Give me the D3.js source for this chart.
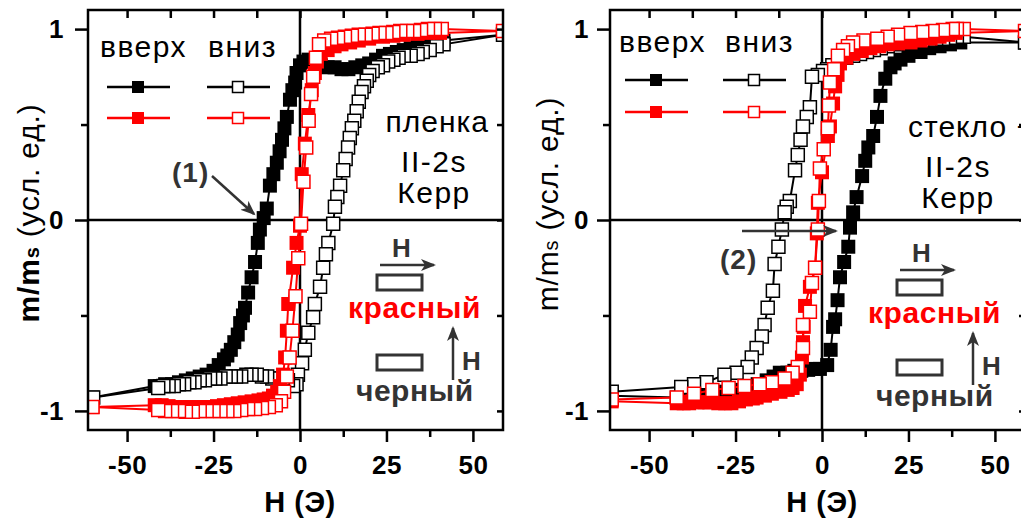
<!DOCTYPE html>
<html>
<head>
<meta charset="utf-8">
<script src="https://cdn.jsdelivr.net/npm/d3@7"></script>
<style>
body { margin: 0; background: #fff; }
svg text { font-family: "Liberation Sans", Arial, sans-serif; }
</style>
</head>
<body>
<svg id="chart" width="1021" height="522"></svg>
<script>
// ---- data: [H (Oe), m/ms] ----
// panel 1: film (пленка)
var filmUpBlack = [[-60,-0.93],[-42,-0.87],[-40.5,-0.87],[-39,-0.86],[-37,-0.86],[-35,-0.85],[-33,-0.84],[-31,-0.83],[-29,-0.82],[-27,-0.81],[-25,-0.79],[-23.5,-0.76],[-22,-0.73],[-21,-0.71],[-20,-0.68],[-19,-0.64],[-18,-0.6],[-17.3,-0.54],[-16.5,-0.5],[-15.9,-0.46],[-15,-0.38],[-14,-0.3],[-13,-0.22],[-12.2,-0.12],[-11.6,-0.05],[-10.5,0.01],[-9.6,0.06],[-8.7,0.18],[-7.7,0.24],[-6.7,0.3],[-5.9,0.36],[-5.2,0.42],[-4.5,0.48],[-3.8,0.54],[-2.9,0.63],[-2.2,0.68],[-1.4,0.72],[-1,0.77],[0,0.81],[1,0.83],[2.5,0.84],[4,0.83],[6,0.81],[8,0.8],[10,0.8],[12,0.79],[14,0.79],[16,0.8],[18,0.81],[20,0.82],[22,0.84],[24,0.86],[26,0.87],[28,0.88],[30,0.89],[32,0.9],[34,0.91],[36,0.92],[38,0.93],[40,0.93],[41.5,0.94],[58.7,0.97]];
var filmDownBlack = [[58.7,0.97],[41.5,0.92],[39.5,0.91],[37.5,0.89],[35.5,0.88],[34,0.87],[32,0.86],[30,0.86],[28.5,0.85],[27,0.84],[25.5,0.83],[24,0.81],[22.5,0.8],[21,0.78],[20,0.76],[19.3,0.73],[18.5,0.7],[17.8,0.67],[17,0.62],[16.4,0.57],[15.7,0.52],[15,0.48],[14.4,0.43],[13.9,0.38],[13.2,0.32],[12.5,0.26],[11.6,0.18],[10.8,0.12],[10.1,0.07],[9.6,-0.02],[8.2,-0.12],[7.5,-0.18],[6.7,-0.25],[5.8,-0.35],[4.3,-0.44],[3.8,-0.51],[2.4,-0.59],[1.4,-0.68],[0.6,-0.75],[-0.6,-0.81],[-1,-0.86],[-2,-0.87],[-3.5,-0.84],[-5,-0.83],[-6.5,-0.83],[-8,-0.83],[-9.5,-0.82],[-11,-0.82],[-12.5,-0.81],[-14,-0.81],[-15.5,-0.81],[-17,-0.82],[-18.5,-0.82],[-20,-0.82],[-21.5,-0.82],[-23,-0.83],[-24.5,-0.83],[-26,-0.83],[-27.5,-0.84],[-29,-0.84],[-30.5,-0.85],[-32,-0.85],[-33.5,-0.86],[-35,-0.86],[-36.5,-0.87],[-38,-0.87],[-39.5,-0.87],[-41,-0.88],[-59.8,-0.93]];
var filmUpRed = [[-60,-0.98],[-42,-0.97],[-40,-0.97],[-38,-0.975],[-36,-0.98],[-34,-0.98],[-32,-0.98],[-30,-0.98],[-28,-0.98],[-26,-0.98],[-24,-0.975],[-22,-0.97],[-20,-0.965],[-18,-0.96],[-16,-0.955],[-14,-0.95],[-12,-0.945],[-10.5,-0.94],[-9,-0.935],[-7.8,-0.92],[-6.6,-0.9],[-5.8,-0.87],[-4.9,-0.81],[-4.3,-0.72],[-3.8,-0.58],[-3.4,-0.44],[-2,-0.25],[-1,-0.12],[0,-0.03],[0.5,0.24],[1.4,0.4],[2.4,0.55],[3.4,0.68],[4.3,0.77],[4.9,0.83],[6,0.87],[8,0.89],[10,0.91],[12,0.92],[14.5,0.93],[17,0.94],[20,0.95],[24,0.96],[27,0.965],[30,0.97],[34,0.975],[37,0.98],[40.5,0.98],[58.7,0.99]];
var filmDownRed = [[58.7,0.99],[41,1],[39,1],[37,1],[35,0.995],[33,0.99],[31,0.99],[29,0.99],[27,0.985],[25,0.98],[23,0.98],[21,0.975],[19,0.97],[17,0.97],[15,0.965],[13,0.96],[11,0.955],[9,0.95],[7,0.94],[5.5,0.92],[4.6,0.85],[3.8,0.75],[3.2,0.66],[2.5,0.52],[1.8,0.38],[1,0.2],[0.3,-0.02],[-0.5,-0.2],[-1.3,-0.4],[-2.2,-0.58],[-3,-0.72],[-3.8,-0.82],[-4.6,-0.9],[-5.5,-0.95],[-7,-0.97],[-9,-0.98],[-11,-0.985],[-13,-0.99],[-15,-0.99],[-17,-0.995],[-19,-1],[-21,-1],[-23,-1],[-25,-1],[-27,-1],[-29,-1],[-31,-1.005],[-33,-1.005],[-35,-1],[-37,-1],[-39,-1],[-41,-0.995],[-60,-0.98]];

// panel 2: glass (стекло)
var glassUpBlack = [[-60.8,-0.92],[-42,-0.93],[-40,-0.93],[-38,-0.92],[-36,-0.92],[-34,-0.91],[-32,-0.91],[-30,-0.9],[-28,-0.9],[-26,-0.89],[-24,-0.89],[-22,-0.88],[-20,-0.87],[-18.6,-0.86],[-16,-0.84],[-14,-0.82],[-12.2,-0.8],[-10,-0.8],[-8,-0.79],[-6,-0.79],[-4,-0.785],[-2,-0.78],[-0.6,-0.78],[1.5,-0.76],[2.5,-0.68],[3.2,-0.56],[3.8,-0.52],[4.5,-0.42],[5.2,-0.3],[6.4,-0.22],[7.6,-0.14],[8.1,-0.04],[9,0.04],[10,0.12],[11.6,0.23],[12.5,0.31],[13.4,0.38],[14.8,0.44],[15.9,0.54],[16.9,0.65],[18.3,0.74],[19.8,0.8],[21,0.82],[22.7,0.84],[25,0.86],[28.5,0.88],[31,0.9],[34,0.91],[37,0.92],[40,0.93],[58.7,0.93]];
var glassDownBlack = [[58.7,0.93],[41,0.96],[39,0.96],[37,0.955],[35,0.95],[33,0.95],[31,0.945],[29,0.94],[27,0.94],[25,0.93],[23,0.93],[21,0.92],[19,0.91],[17,0.9],[15,0.89],[13,0.88],[11,0.87],[9,0.86],[7,0.85],[5,0.83],[3,0.81],[1.5,0.79],[0.3,0.78],[-1.2,0.76],[-2.9,0.75],[-3.5,0.59],[-4.4,0.54],[-5.5,0.49],[-6.2,0.42],[-7,0.34],[-7.8,0.26],[-9.3,0.1],[-10.2,0.07],[-10.8,0.04],[-11.6,-0.05],[-12.6,-0.14],[-13.7,-0.23],[-14.2,-0.37],[-15.7,-0.46],[-16.6,-0.55],[-17.4,-0.61],[-18.9,-0.67],[-20.3,-0.72],[-21.5,-0.77],[-24.7,-0.8],[-28.2,-0.81],[-33.4,-0.85],[-37,-0.86],[-40.7,-0.875],[-60.8,-0.9]];
var glassUpRed = [[-60.8,-0.95],[-42,-0.96],[-40,-0.96],[-38.4,-0.96],[-36,-0.955],[-34,-0.955],[-32.6,-0.955],[-30,-0.96],[-28,-0.96],[-26.2,-0.96],[-24,-0.95],[-22,-0.94],[-20,-0.935],[-18.9,-0.93],[-16.5,-0.92],[-14.5,-0.91],[-12,-0.9],[-9.9,-0.89],[-8.5,-0.88],[-7.3,-0.86],[-6.4,-0.81],[-5.8,-0.72],[-5.5,-0.64],[-5.3,-0.56],[-4.9,-0.45],[-3.5,-0.35],[-2,-0.25],[-1.5,-0.07],[-1.2,0.09],[0,0.25],[1.7,0.44],[2.3,0.49],[3.2,0.61],[3.8,0.7],[4.5,0.76],[5.2,0.82],[7,0.85],[9,0.87],[11.5,0.885],[14,0.9],[16.5,0.91],[19,0.92],[22,0.925],[25.6,0.93],[28.5,0.94],[31.4,0.95],[34,0.96],[36.5,0.97],[38.7,0.98],[58.7,0.99]];
var glassDownRed = [[58.7,0.99],[41,1],[39,1],[37.8,1],[35,0.995],[32,0.99],[29,0.985],[25.6,0.98],[22,0.97],[19,0.96],[16,0.95],[12,0.94],[9,0.93],[7.5,0.91],[6.1,0.89],[4.6,0.86],[3.5,0.79],[2.3,0.72],[2,0.6],[1.7,0.48],[0.5,0.37],[-0.6,0.27],[-0.9,0.1],[-1.2,-0.05],[-2,-0.25],[-2.9,-0.33],[-3.5,-0.48],[-5.5,-0.55],[-5.5,-0.67],[-7,-0.77],[-8.5,-0.8],[-10.8,-0.83],[-14.5,-0.85],[-18,-0.86],[-22.4,-0.87],[-27,-0.88],[-31.7,-0.89],[-37,-0.91],[-42,-0.93],[-60.8,-0.94]];

var xTicks = [-50, -25, 0, 25, 50];
var xMinorTicks = [-37.5, -12.5, 12.5, 37.5];
var yTicks = [-1, 0, 1];
var yMinorTicks = [-0.5, 0.5];

// ---- layout ----
var svg = d3.select("#chart");
var W = 415, TOP = 10, BOTTOM = 430;
var xDomain = [-61.3, 58.7], yDomain = [-1.1, 1.1];
var GRAY = "#333";

svg.append("rect").attr("width", 1021).attr("height", 522).attr("fill", "#fff");
var defs = svg.append("defs");
defs.append("marker")
    .attr("id", "arrow")
    .attr("markerUnits", "userSpaceOnUse")
    .attr("markerWidth", 16).attr("markerHeight", 12)
    .attr("refX", 13).attr("refY", 6)
    .attr("orient", "auto")
  .append("path")
    .attr("d", "M0,0 L15,6 L0,12 L4,6 Z")
    .attr("fill", GRAY);

function label(g, x, y, str, size, weight, color, anchor, spacing) {
    return g.append("text")
        .attr("x", x).attr("y", y)
        .attr("font-size", size)
        .attr("font-weight", weight || "normal")
        .attr("fill", color || "#000")
        .attr("text-anchor", anchor || "start")
        .attr("letter-spacing", spacing || 0)
        .text(str);
}

function arrow(g, x1, y1, x2, y2) {
    g.append("line")
        .attr("x1", x1).attr("y1", y1).attr("x2", x2).attr("y2", y2)
        .attr("stroke", GRAY).attr("stroke-width", 2.5)
        .attr("marker-end", "url(#arrow)");
}

function box(g, x, y, w, h) {
    g.append("rect")
        .attr("x", x).attr("y", y).attr("width", w).attr("height", h)
        .attr("fill", "none").attr("stroke", GRAY).attr("stroke-width", 3);
}

var sqFilled = d3.symbol().type(d3.symbolSquare).size(196);
var sqOpen = d3.symbol().type(d3.symbolSquare).size(169);
var sqLegFilled = d3.symbol().type(d3.symbolSquare).size(144);
var sqLegOpen = d3.symbol().type(d3.symbolSquare).size(121);

function drawMarker(g, cx, cy, color, open) {
    g.append("path")
        .attr("d", open ? sqLegOpen() : sqLegFilled())
        .attr("transform", "translate(" + cx + "," + cy + ")")
        .attr("fill", open ? "#fff" : color)
        .attr("stroke", open ? color : "none")
        .attr("stroke-width", 1.5);
}

function drawPanel(p) {
    var x = d3.scaleLinear().domain(xDomain).range([p.left, p.left + W]);
    var y = d3.scaleLinear().domain(yDomain).range([BOTTOM, TOP]);
    var g = svg.append("g");

    defs.append("clipPath").attr("id", "clip" + p.id)
      .append("rect")
        .attr("x", p.left).attr("y", TOP)
        .attr("width", W).attr("height", BOTTOM - TOP);

    // zero lines
    g.append("line")
        .attr("x1", p.left).attr("x2", p.left + W)
        .attr("y1", y(0)).attr("y2", y(0))
        .attr("stroke", "#000").attr("stroke-width", 2.5);
    g.append("line")
        .attr("x1", x(0)).attr("x2", x(0))
        .attr("y1", TOP).attr("y2", BOTTOM)
        .attr("stroke", "#000").attr("stroke-width", 2.5);

    var plot = g.append("g").attr("clip-path", "url(#clip" + p.id + ")");
    var line = d3.line().x(function(d) { return x(d[0]); }).y(function(d) { return y(d[1]); });

    p.series.forEach(function(s) {
        plot.append("path")
            .datum(s.data)
            .attr("d", line)
            .attr("fill", "none")
            .attr("stroke", s.color)
            .attr("stroke-width", 2);
        plot.append("g").selectAll("path")
            .data(s.data)
            .enter().append("path")
            .attr("d", s.open ? sqOpen : sqFilled)
            .attr("transform", function(d) { return "translate(" + x(d[0]) + "," + y(d[1]) + ")"; })
            .attr("fill", s.open ? "#fff" : s.color)
            .attr("stroke", s.open ? s.color : "none")
            .attr("stroke-width", 1.5);
    });

    // frame
    g.append("rect")
        .attr("x", p.left).attr("y", TOP)
        .attr("width", W).attr("height", BOTTOM - TOP)
        .attr("fill", "none").attr("stroke", "#000").attr("stroke-width", 2.5);

    // axes
    var fmt = function(d) { return String(d); };
    var axes = [
        g.append("g").attr("transform", "translate(0," + BOTTOM + ")")
            .call(d3.axisBottom(x).tickValues(xTicks).tickSize(12).tickPadding(14).tickFormat(fmt)),
        g.append("g").attr("transform", "translate(0," + BOTTOM + ")")
            .call(d3.axisBottom(x).tickValues(xMinorTicks).tickSize(7).tickFormat("")),
        g.append("g").attr("transform", "translate(0," + TOP + ")")
            .call(d3.axisBottom(x).tickValues(xTicks.concat(xMinorTicks)).tickSize(8).tickFormat("")),
        g.append("g").attr("transform", "translate(" + p.left + ",0)")
            .call(d3.axisLeft(y).tickValues(yTicks).tickSize(13).tickPadding(p.yPad).tickFormat(fmt)),
        g.append("g").attr("transform", "translate(" + p.left + ",0)")
            .call(d3.axisLeft(y).tickValues(yMinorTicks).tickSize(7).tickFormat("")),
        g.append("g").attr("transform", "translate(" + (p.left + W) + ",0)")
            .call(d3.axisLeft(y).tickValues(yTicks.concat(yMinorTicks)).tickSize(6).tickFormat(""))
    ];
    axes.forEach(function(a) {
        a.select(".domain").remove();
        a.selectAll("line").attr("stroke", "#000").attr("stroke-width", 2.5);
        a.selectAll("text")
            .attr("font-family", "'Liberation Sans', Arial, sans-serif")
            .attr("font-size", 26).attr("font-weight", "bold").attr("fill", "#000")
            .attr("letter-spacing", 0.5);
    });

    // axis titles
    var yt = g.append("text")
        .attr("transform", "translate(" + p.yTitle[0] + "," + p.yTitle[1] + ") rotate(-90)")
        .attr("text-anchor", "middle").attr("font-size", 30).attr("letter-spacing", 0.8);
    yt.append("tspan").attr("font-weight", p.yTitleBold ? "bold" : "normal").text("m/m");
    yt.append("tspan").attr("font-weight", p.yTitleBold ? "bold" : "normal").attr("font-size", 20).text("s");
    yt.append("tspan").text(" (усл. ед.)");
    label(g, x(0), 512, "Н (Э)", 29, "bold", "#000", "middle", 0.5);

    // legend
    var L = p.legend;
    label(g, L.head1, L.head, "вверх", 30, "normal", "#000", "start", 1.5);
    label(g, L.head2, L.head, "вниз", 30, "normal", "#000", "start", 1.5);
    [["#000", L.row1], ["#f00", L.row2]].forEach(function(r) {
        [[L.col1, false], [L.col2, true]].forEach(function(c) {
            g.append("line")
                .attr("x1", c[0]).attr("x2", c[0] + 63)
                .attr("y1", r[1]).attr("y2", r[1])
                .attr("stroke", r[0]).attr("stroke-width", 2.5);
            drawMarker(g, c[0] + 31, r[1], r[0], c[1]);
        });
    });

    // sample description
    var S = p.sample;
    label(g, S.x, S.y, S.name, 30, "normal", "#000", S.anchor, 1);
    label(g, S.cx, S.y + 40, "II-2s", 30, "normal", "#000", "middle", 1.5);
    label(g, S.cx, S.y + 71, "Керр", 30, "normal", "#000", "middle", 1.5);

    // numbered arrow
    var N = p.note;
    label(g, N.tx, N.ty, N.text, 28, "bold", GRAY, "start", 1);
    arrow(g, N.a[0], N.a[1], N.a[2], N.a[3]);

    // geometry sketch (red / black)
    var K = p.sketch, dx = K.dx, dy = K.dy;
    label(g, 392 + dx, 257 + dy, "Н", 26, "bold", GRAY);
    arrow(g, 380 + dx, 265 + dy, 434 + dx, 265 + dy);
    box(g, 377 + dx, 275 + dy, 45, 15);
    label(g, 348 + dx, 318 + dy, "красный", 30, "bold", "#f00", "start", 0.6);
    box(g, 377 + dx, 355 + dy, 45, 15);
    arrow(g, 453 + dx, 380 + dy, 453 + dx, 328 + dy);
    label(g, 462 + dx, 370 + dy, "Н", 26, "bold", GRAY);
    label(g, 356 + dx, 401 + dy, "черный", 30, "bold", GRAY, "start", 0.5);
}

drawPanel({
    id: 1, left: 88, yPad: 11,
    yTitle: [39, 213], yTitleBold: true,
    series: [
        { data: filmUpBlack, color: "#000", open: false },
        { data: filmDownBlack, color: "#000", open: true },
        { data: filmUpRed, color: "#f00", open: false },
        { data: filmDownRed, color: "#f00", open: true }
    ],
    legend: { head1: 100, head2: 208, col1: 107, col2: 207, head: 57, row1: 87, row2: 118 },
    sample: { name: "пленка", x: 489, y: 132, anchor: "end", cx: 434 },
    note: { text: "(1)", tx: 172, ty: 182, a: [212, 176, 254, 214] },
    sketch: { dx: 0, dy: 0 }
});

drawPanel({
    id: 2, left: 610, yPad: 8,
    yTitle: [558, 204], yTitleBold: false,
    series: [
        { data: glassUpBlack, color: "#000", open: false },
        { data: glassDownBlack, color: "#000", open: true },
        { data: glassUpRed, color: "#f00", open: false },
        { data: glassDownRed, color: "#f00", open: true }
    ],
    legend: { head1: 619, head2: 725, col1: 625, col2: 723, head: 52, row1: 80, row2: 112 },
    sample: { name: "стекло +", x: 908, y: 137, anchor: "start", cx: 958 },
    note: { text: "(2)", tx: 720, ty: 269, a: [742, 231, 836, 231] },
    sketch: { dx: 520, dy: 5 }
});
</script>
</body>
</html>
